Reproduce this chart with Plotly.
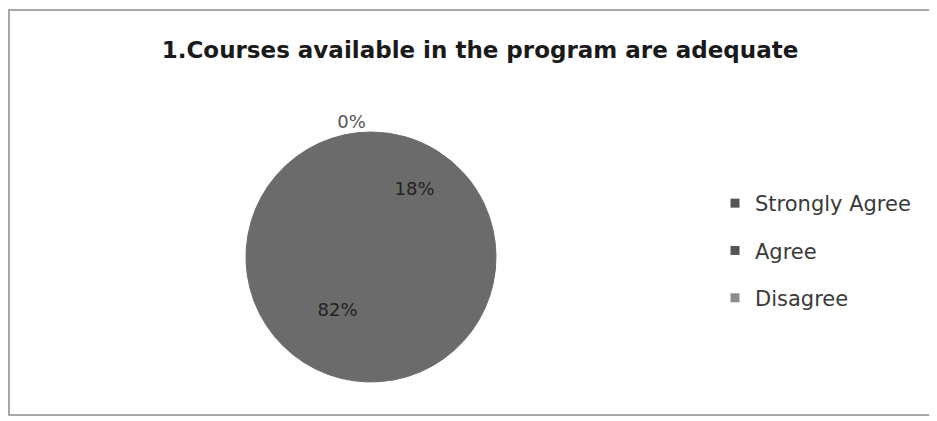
import plotly.graph_objects as go

labels = ["Strongly Agree", "Agree", "Disagree"]
values = [18, 82, 0]
slice_colors = ["#6b6b6b", "#6b6b6b", "#8a8a8a"]
legend_colors = ["#555555", "#555555", "#8c8c8c"]
label_colors = ["#222222", "#222222", "#555555"]
title = "1.Courses available in the program are adequate"

# page body has an 8px margin, so the figure is drawn 8px in from the window edge
OFF = 8
W, H = 937 - OFF, 421 - OFF


def px(x):
    return (x - OFF) / W


def py(y):
    return 1 - (y - OFF) / H


fig = go.Figure()

fig.add_trace(
    go.Pie(
        labels=labels,
        values=values,
        sort=False,
        direction="clockwise",
        rotation=0,
        marker=dict(colors=slice_colors, line=dict(width=1, color="#6b6b6b")),
        textinfo="percent",
        texttemplate="%{percent:.0%}",
        textposition=["inside", "inside", "outside"],
        insidetextorientation="horizontal",
        textfont=dict(family="DejaVu Sans", size=18, color=label_colors),
        showlegend=False,
        domain=dict(x=[px(246), px(496)], y=[py(382), py(132)]),
    )
)

# legend entries drawn with dummy markers so the rows can be spaced like the original
for lab, col in zip(labels, legend_colors):
    fig.add_trace(
        go.Scatter(
            x=[None],
            y=[None],
            mode="markers",
            name=lab,
            legendgroup=lab,
            marker=dict(symbol="square", size=9, color=col),
        )
    )

fig.update_layout(
    width=W,
    height=H,
    margin=dict(l=0, r=0, t=0, b=0),
    paper_bgcolor="white",
    plot_bgcolor="white",
    title=dict(
        text="<b>" + title + "</b>",
        x=px(480),
        xanchor="center",
        y=py(50),
        yanchor="middle",
        font=dict(family="DejaVu Sans", size=23, color="#1a1a1a"),
    ),
    xaxis=dict(visible=False),
    yaxis=dict(visible=False),
    legend=dict(
        x=px(715),
        y=py(183),
        xanchor="left",
        yanchor="top",
        font=dict(family="DejaVu Sans", size=21, color="#3a3a3a"),
        tracegroupgap=17,
        itemwidth=30,
        bgcolor="rgba(0,0,0,0)",
    ),
    shapes=[
        dict(
            type="rect",
            xref="paper",
            yref="paper",
            x0=px(9),
            x1=px(935),
            y0=py(415),
            y1=py(10),
            line=dict(color="#8a8a8a", width=1.5),
        )
    ],
)

fig.write_html("out.html")
